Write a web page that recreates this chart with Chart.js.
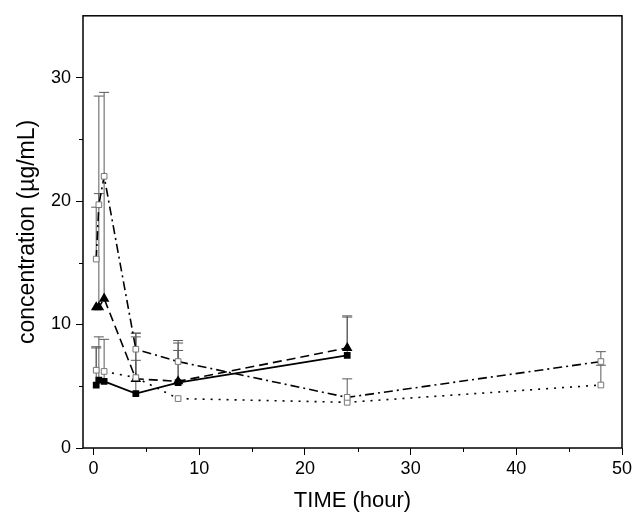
<!DOCTYPE html>
<html>
<head>
<meta charset="utf-8">
<script src="https://cdn.jsdelivr.net/npm/chart.js@4"></script>
<style>
    body { margin: 0; background: #fff; }
    #wrap { width: 642px; height: 522px; }
</style>
</head>
<body>
<div id="wrap"><canvas id="pk-chart"></canvas></div>
<script>
// time points (hour)
const timesA = [0.25, 0.5, 1, 4, 8, 24];
const timesB = [0.25, 0.5, 1, 4, 8, 24];
const timesC = [0.25, 0.5, 1, 4, 8, 24, 48];
const timesD = [0.25, 1, 4, 8, 24, 48];

// mean concentration (ug/mL)
const meanA = [5.1, 5.5, 5.4, 4.4, 5.3, 7.5];
const meanB = [11.4, 11.4, 12.1, 5.6, 5.4, 8.1];
const meanC = [15.3, 19.7, 22.0, 8.0, 7.0, 4.1, 7.0];
const meanD = [6.3, 6.2, 5.7, 4.0, 3.7, 5.1];

// upper error (SD)
const errA = [3.0, 3.5, 3.4, 2.7, 2.6, 3.1];
const errB = [0, 17.1, 16.7, 3.7, 3.3, 2.6];
const errC = [4.2, 0.9, 0, 1.3, 1.5, 1.5, 0.8];
const errD = [1.9, 0, 3.3, 0, 0, 1.6, 2.5];

const xTicks = [0, 10, 20, 30, 40, 50];
const yTicks = [0, 10, 20, 30];

const FONT = '"Liberation Sans", Arial, sans-serif';

function toPoints(times, values) {
    return times.map((t, i) => ({x: t, y: values[i]}));
}

// vertical error bars with caps, drawn before the markers
const errorBars = {
    id: 'errorBars',
    beforeDatasetsDraw(chart) {
        const ctx = chart.ctx;
        const xs = chart.scales.x;
        const ys = chart.scales.y;
        ctx.save();
        chart.data.datasets.forEach((ds) => {
            if (!ds.errors) {
                return;
            }
            ctx.strokeStyle = '#5a5a5a';
            ctx.lineWidth = 1;
            ds.data.forEach((p, i) => {
                const e = ds.errors[i];
                if (!e) {
                    return;
                }
                const px = xs.getPixelForValue(p.x);
                const y0 = ys.getPixelForValue(p.y);
                const y1 = ys.getPixelForValue(p.y + e);
                ctx.beginPath();
                ctx.moveTo(px, y0);
                ctx.lineTo(px, y1);
                ctx.moveTo(px - 5, y1);
                ctx.lineTo(px + 5, y1);
                ctx.stroke();
            });
        });
        ctx.restore();
    }
};

// box frame + minor ticks
const frame = {
    id: 'frame',
    afterDraw(chart) {
        const ctx = chart.ctx;
        const a = chart.chartArea;
        const xs = chart.scales.x;
        const ys = chart.scales.y;
        ctx.save();
        ctx.strokeStyle = '#000';
        ctx.lineWidth = 1.5;
        ctx.strokeRect(a.left, a.top, a.right - a.left, a.bottom - a.top);
        ctx.lineWidth = 1;
        ctx.beginPath();
        for (let v = 5; v < 50; v += 10) {
            const px = Math.round(xs.getPixelForValue(v)) + 0.5;
            ctx.moveTo(px, a.bottom);
            ctx.lineTo(px, a.bottom + 4);
        }
        for (let v = 5; v < 35; v += 10) {
            const py = Math.round(ys.getPixelForValue(v)) + 0.5;
            ctx.moveTo(a.left, py);
            ctx.lineTo(a.left - 4, py);
        }
        ctx.stroke();
        ctx.restore();
    }
};

const datasets = [
    {
        label: 'C',
        data: toPoints(timesC, meanC),
        errors: errC,
        borderColor: '#000',
        borderWidth: 1.6,
        borderDash: [9, 4, 2, 4],
        pointStyle: 'rect',
        pointRadius: 4,
        pointBackgroundColor: '#fff',
        pointBorderColor: '#777',
        pointBorderWidth: 1,
    },
    {
        label: 'D',
        data: toPoints(timesD, meanD),
        errors: errD,
        borderColor: '#000',
        borderWidth: 1.6,
        borderDash: [2, 6],
        pointStyle: 'rect',
        pointRadius: 4,
        pointBackgroundColor: '#fff',
        pointBorderColor: '#777',
        pointBorderWidth: 1,
    },
    {
        label: 'B',
        data: toPoints(timesB, meanB),
        errors: errB,
        borderColor: '#000',
        borderWidth: 1.6,
        borderDash: [9, 5],
        pointStyle: 'triangle',
        pointRadius: 4.5,
        pointBackgroundColor: '#000',
        pointBorderColor: '#000',
    },
    {
        label: 'A',
        data: toPoints(timesA, meanA),
        errors: errA,
        borderColor: '#000',
        borderWidth: 1.8,
        pointStyle: 'rect',
        pointRadius: 3.5,
        pointBackgroundColor: '#000',
        pointBorderColor: '#000',
    }
];

new Chart(document.querySelector('#pk-chart'), {
    type: 'scatter',
    data: {datasets: datasets},
    plugins: [errorBars, frame],
    options: {
        responsive: true,
        maintainAspectRatio: false,
        animation: false,
        showLine: true,
        layout: {padding: {top: 14, right: 20, bottom: 8, left: 0}},
        elements: {line: {tension: 0, fill: false}},
        plugins: {legend: {display: false}, tooltip: {enabled: false}},
        scales: {
            x: {
                type: 'linear',
                min: -1,
                max: 50,
                afterBuildTicks: (scale) => {
                    scale.ticks = xTicks.map((v) => ({value: v}));
                },
                afterFit: (scale) => {
                    scale.height = 66;
                },
                grid: {drawOnChartArea: false, tickLength: 7, tickColor: '#000', color: '#000'},
                border: {display: false},
                ticks: {color: '#000', font: {family: FONT, size: 18}, padding: 3, maxRotation: 0},
                title: {display: true, text: 'TIME (hour)', color: '#000', font: {family: FONT, size: 22}, padding: 0}
            },
            y: {
                type: 'linear',
                min: 0,
                max: 35,
                afterBuildTicks: (scale) => {
                    scale.ticks = yTicks.map((v) => ({value: v}));
                },
                afterFit: (scale) => {
                    scale.width = 83;
                },
                grid: {drawOnChartArea: false, tickLength: 7, tickColor: '#000', color: '#000'},
                border: {display: false},
                ticks: {color: '#000', font: {family: FONT, size: 18}, padding: 5},
                title: {display: true, text: 'concentration (µg/mL)', color: '#000', font: {family: FONT, size: 23}, padding: {top: 14, bottom: 0}}
            }
        }
    }
});
</script>
</body>
</html>
